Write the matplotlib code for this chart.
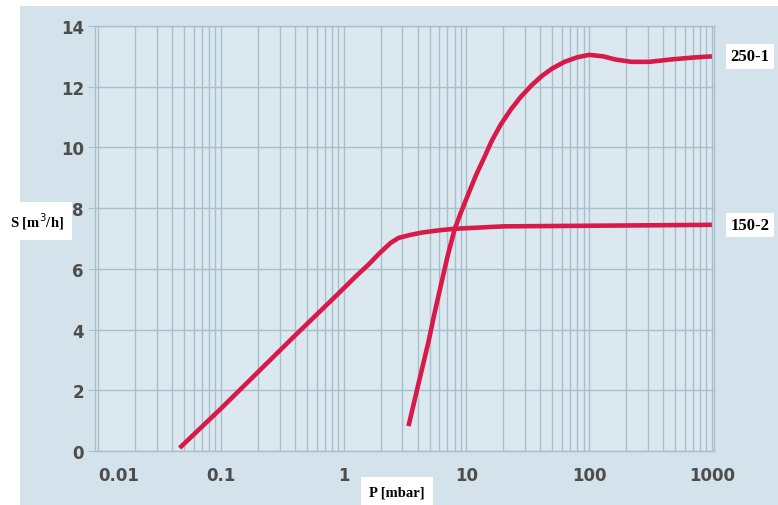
import matplotlib.pyplot as plt
from matplotlib.patches import Rectangle

# pumping speed curves
p_150 = [0.046, 0.1, 0.2, 0.4, 0.86, 1.26, 1.6, 1.94, 2.4, 2.8, 3.5, 4.4, 6.0, 8.0, 20, 100, 1000]
s_150 = [0.1, 1.4, 2.6, 3.8, 5.1, 5.76, 6.15, 6.5, 6.85, 7.02, 7.12, 7.2, 7.27, 7.32, 7.4, 7.42, 7.45]

p_250 = [3.37, 4.0, 4.9, 5.5, 6.1, 7.0, 8.0, 9.0, 10.2, 12.0, 13.9, 16.0, 19, 23, 27.5, 34, 41,
         50, 63, 80, 100, 130, 162, 220, 310, 470, 700, 1000]
s_250 = [0.82, 2.1, 3.59, 4.55, 5.35, 6.4, 7.3, 7.85, 8.4, 9.1, 9.65, 10.2, 10.75, 11.25, 11.65,
         12.05, 12.35, 12.6, 12.82, 12.97, 13.05, 13.0, 12.9, 12.82, 12.82, 12.9, 12.96, 13.0]

x_ticks = [0.01, 0.1, 1, 10, 100, 1000]
x_labels = ['0.01', '0.1', '1', '10', '100', '1000']
y_ticks = [0, 2, 4, 6, 8, 10, 12, 14]

red = '#d81a4a'
grid_col = '#a8bfcc'
tick_col = '#4d4d4d'

fig = plt.figure(figsize=(7.78, 5.06), dpi=100)
fig.patch.set_facecolor('white')
# light blue panel behind everything
fig.patches.append(Rectangle((20 / 778, 0), 1, 1 - 7 / 506, transform=fig.transFigure,
                             facecolor='#d4e2eb', edgecolor='none', zorder=-5))

ax = fig.add_axes([95 / 778, 1 - 452 / 506, 619 / 778, 425 / 506])
ax.set_facecolor('#dbe8f0')
ax.set_xscale('log')
ax.set_xlim(0.0094, 1040)
ax.set_ylim(0, 14)

ax.plot(p_150, s_150, color=red, lw=3.3, solid_capstyle='butt', solid_joinstyle='round', zorder=3)
ax.plot(p_250, s_250, color=red, lw=3.3, solid_capstyle='butt', solid_joinstyle='round', zorder=3)

ax.set_xticks(x_ticks)
ax.set_xticklabels(x_labels)
ax.set_yticks(y_ticks)
ax.grid(True, which='both', axis='x', color=grid_col, lw=1.0)
ax.grid(True, which='major', axis='y', color=grid_col, lw=1.0)
ax.tick_params(axis='x', which='both', length=0, pad=11, labelsize=12, labelcolor=tick_col)
ax.tick_params(axis='y', length=5, color=grid_col, pad=3, labelsize=12, labelcolor=tick_col)
for lab in ax.get_xticklabels() + ax.get_yticklabels():
    lab.set_fontweight('bold')
ax.get_xticklabels()[0].set_horizontalalignment('left')
ax.get_xticklabels()[0].set_x(0.0086)
for sp in ax.spines.values():
    sp.set_color(grid_col)
    sp.set_linewidth(1.0)

box = dict(facecolor='white', edgecolor='none', pad=3)
ax.text(1.0 + 36 / 619, 13.0, '250-1', transform=ax.get_yaxis_transform(), ha='center',
        va='center', family='Liberation Serif', fontweight='bold', fontsize=12, bbox=box)
ax.text(1.0 + 36 / 619, 7.45, '150-2', transform=ax.get_yaxis_transform(), ha='center',
        va='center', family='Liberation Serif', fontweight='bold', fontsize=12, bbox=box)

fig.text(37 / 778, 1 - 222 / 506, 'S [m$^3$/h]', ha='center', va='center',
         family='Liberation Serif', fontweight='bold', fontsize=10.5,
         bbox=dict(facecolor='white', edgecolor='none', pad=6))
fig.text(397 / 778, 1 - 493 / 506, 'P [mbar]', ha='center', va='center',
         family='Liberation Serif', fontweight='bold', fontsize=10.5,
         bbox=dict(facecolor='white', edgecolor='none', pad=6))

fig.savefig('out.png', dpi=100)
